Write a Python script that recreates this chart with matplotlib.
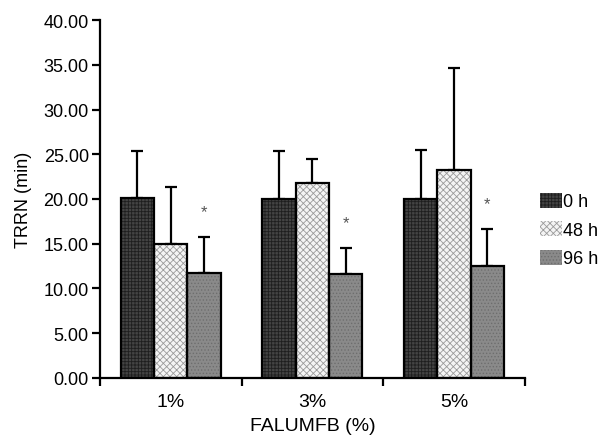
# TRRN by FALUMFB concentration, grouped bars with upper error bars

import numpy as np
import matplotlib.pyplot as plt
from matplotlib.patches import Patch

plt.rcParams['font.family'] = ['Liberation Sans', 'DejaVu Sans']
plt.rcParams['hatch.linewidth'] = 0.6

categories = ['1%', '3%', '5%']
series = ['0 h', '48 h', '96 h']
means = [
    [20.1, 20.0, 20.0],    # 0 h
    [15.0, 21.75, 23.25],  # 48 h
    [11.7, 11.6, 12.55],   # 96 h
]
errors = [
    [5.3, 5.4, 5.5],
    [6.3, 2.7, 11.35],
    [4.1, 2.9, 4.1],
]
stars = ['*', '*', '*']   # над столбцами 96 h

faces = ['#444444', '#f4f4f4', '#8a8a8a']
hatch_cols = ['#1e1e1e', '#9a9a9a', '#6e6e6e']
hatches = ['+++++', 'xxxxx', '.....']

fig = plt.figure(figsize=(6.09, 4.39), dpi=100)
ax = fig.add_axes([0.164, 0.137, 0.698, 0.815])

x = np.arange(len(categories))
w = 0.235
for i, name in enumerate(series):
    pos = x + (i - 1) * w
    # заливка со штриховкой без контура
    ax.bar(pos, means[i], w, color=faces[i], edgecolor=hatch_cols[i],
           hatch=hatches[i], linewidth=0, zorder=2)
    # контур сверху
    ax.bar(pos, means[i], w, fill=False, edgecolor='black', linewidth=1.6,
           zorder=3)
    ax.errorbar(pos, means[i], yerr=[np.zeros(3), errors[i]], fmt='none',
                ecolor='black', elinewidth=1.6, capsize=4, capthick=1.6,
                zorder=1)

pos96 = x + w
for j in range(len(categories)):
    ax.text(pos96[j], means[2][j] + errors[2][j] + 2.0, stars[j],
            ha='center', va='bottom', fontsize=12, color='#555555')

ax.set_xlim(-0.5, 2.5)
ax.set_ylim(0, 40)
ax.set_yticks(np.arange(0, 40.01, 5))
ax.set_yticklabels([f'{v:.2f}' for v in np.arange(0, 40.01, 5)])
ax.set_xticks(x)
ax.set_xticklabels(categories)
ax.tick_params(axis='x', length=0, labelsize=14, pad=11)
ax.set_xticks([-0.5, 0.5, 1.5, 2.5], minor=True)
ax.tick_params(axis='x', which='minor', length=6, width=1.6, direction='out')
ax.tick_params(axis='y', length=6, width=1.6, labelsize=13, direction='out',
               pad=2)

for s in ['top', 'right']:
    ax.spines[s].set_visible(False)
for s in ['left', 'bottom']:
    ax.spines[s].set_linewidth(1.6)

ax.set_xlabel('FALUMFB (%)', fontsize=14, labelpad=5)
ax.set_ylabel('TRRN (min)', fontsize=13, labelpad=8)

handles = [Patch(facecolor=faces[i], edgecolor=hatch_cols[i], hatch=hatches[i],
                 linewidth=0) for i in range(3)]
fig.legend(handles, series, loc='upper left', bbox_to_anchor=(0.886, 0.559),
           frameon=False, fontsize=13, handlelength=1.22, handleheight=0.9,
           handletextpad=0.05, labelspacing=0.6, borderpad=0,
           borderaxespad=0)

fig.savefig('out.png', dpi=100)
